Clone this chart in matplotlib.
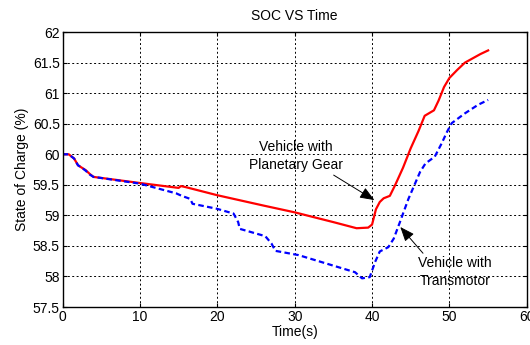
import numpy as np
import matplotlib.pyplot as plt

plt.rcParams['font.family'] = ['Liberation Sans', 'DejaVu Sans']

# SOC of the planetary gear vehicle (red, solid)
t_pg = [0, 0.8, 1.5, 2.0, 2.5, 3.0, 3.5, 4.0, 10, 15, 15.3, 16, 20, 26, 30, 35, 38,
        39.5, 40, 40.5, 41, 41.5, 42.3, 43, 44, 45, 46, 46.8, 48, 48.6, 49.3, 50,
        51, 52, 53, 54, 55]
soc_pg = [60.0, 60.0, 59.93, 59.82, 59.78, 59.74, 59.68, 59.63, 59.53, 59.45, 59.48,
          59.46, 59.33, 59.16, 59.05, 58.89, 58.79, 58.80, 58.85, 59.1, 59.22, 59.28,
          59.32, 59.5, 59.78, 60.1, 60.38, 60.63, 60.72, 60.88, 61.1, 61.25, 61.38,
          61.5, 61.57, 61.64, 61.7]

# SOC of the transmotor vehicle (blue, dashed)
t_tm = [0, 0.8, 1.5, 2.0, 2.5, 3.0, 3.5, 4.0, 10, 14.7, 15.4, 16.5, 16.8, 19.9, 22.1,
        22.7, 22.9, 26.2, 27.0, 27.5, 30.5, 37.8, 38.7, 39.7, 40.4, 41.0, 42.1, 42.8,
        43.6, 44.7, 46.2, 46.9, 48.1, 49.0, 49.7, 50.3, 52.0, 53.7, 55]
soc_tm = [60.0, 60.0, 59.93, 59.82, 59.78, 59.73, 59.67, 59.63, 59.52, 59.36, 59.32,
          59.27, 59.19, 59.11, 59.03, 58.89, 58.78, 58.66, 58.54, 58.42, 58.35, 58.07,
          57.97, 57.99, 58.24, 58.41, 58.48, 58.62, 58.89, 59.27, 59.71, 59.85, 59.96,
          60.18, 60.37, 60.51, 60.67, 60.81, 60.89]

xticks = [0, 10, 20, 30, 40, 50, 60]
yticks = [57.5, 58, 58.5, 59, 59.5, 60, 60.5, 61, 61.5, 62]

fig = plt.figure(figsize=(5.3, 3.45), dpi=100)
ax = fig.add_axes([0.118, 0.110, 0.876, 0.797])

ax.plot(t_pg, soc_pg, color='red', lw=1.6)
ax.plot(t_tm, soc_tm, color='blue', lw=1.6, ls=(0, (2.5, 1.5)))

ax.set_xlim(0, 60)
ax.set_ylim(57.5, 62)
ax.set_xticks(xticks)
ax.set_yticks(yticks)
ax.set_yticklabels([('%g' % v) for v in yticks])
ax.grid(True, color='black', ls=(0, (2, 2.5)), lw=0.7)
ax.tick_params(direction='in', top=True, right=True, labelsize=10, length=3, pad=2)
for s in ax.spines.values():
    s.set_linewidth(1.0)

ax.set_title('SOC VS Time', fontsize=10, pad=9)
ax.set_xlabel('Time(s)', fontsize=10, labelpad=1)
ax.set_ylabel('State of Charge (%)', fontsize=10, labelpad=3)

ap = dict(arrowstyle='-|>,head_length=0.55,head_width=0.22', color='black', lw=0.7,
          mutation_scale=16, shrinkA=0, shrinkB=0)
ax.annotate('Vehicle with\nPlanetary Gear', xy=(40.3, 59.25), xytext=(30.2, 59.97),
            ha='center', va='center', fontsize=10, linespacing=1.4,
            arrowprops=dict(ap, relpos=(0.85, 0.0)))
ax.annotate('Vehicle with\nTransmotor', xy=(43.65, 58.81), xytext=(50.7, 58.07),
            ha='center', va='center', fontsize=10, linespacing=1.4,
            arrowprops=dict(ap, relpos=(0.1, 1.0)))

fig.savefig('out.png', dpi=100)
